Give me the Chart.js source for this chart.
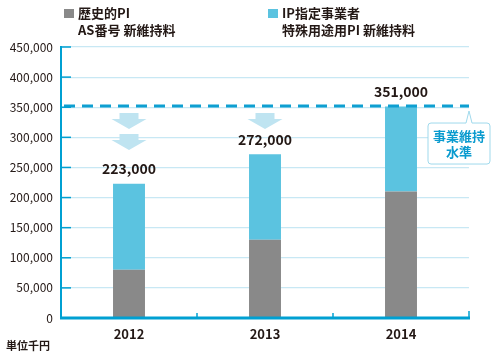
<!DOCTYPE html>
<html>
<head>
<meta charset="utf-8">
<script src="https://cdn.jsdelivr.net/npm/chart.js@4"></script>
<style>
  html, body { margin: 0; padding: 0; background: #fff; }
  #wrap { width: 500px; height: 358px; position: relative; }
</style>
</head>
<body>
<div id="wrap"><canvas id="feeChart"></canvas></div>
<script>
// data
const years = ["2012", "2013", "2014"];
const historicPI = [80000, 130000, 210000];
const ipDesignated = [143000, 142000, 141000];
const seriesNames = [
  ["歴史的PI", "AS番号 新維持料"],
  ["IP指定事業者", "特殊用途用PI 新維持料"],
];
const targetLevel = 352000;
const targetLabel = ["事業維持", "水準"];
const arrowCounts = [2, 1, 0];
const unitLabel = "単位千円";

const FONT = "'Noto Sans CJK JP', 'Noto Sans', sans-serif";
const TEXT = "#231815";
const AXIS = "#00a0d2";
const GRAY = "#898989";
const BLUE = "#5bc3e0";

function fmt(v) {
  return v.toLocaleString("en-US");
}

/* axes, legend, labels and annotations */
const decor = {
  id: "decor",
  afterDatasetsDraw(chart) {
    const ctx = chart.ctx;
    const area = chart.chartArea;
    const x = chart.scales.x;
    const y = chart.scales.y;

    // down arrows
    const ty = y.getPixelForValue(targetLevel);
    ctx.save();
    ctx.fillStyle = "#bfe4f1";
    arrowCounts.forEach((n, i) => {
      const cx = x.getPixelForValue(i);
      for (let k = 0; k < n; k++) {
        const top = ty + 7 + k * 21;
        ctx.beginPath();
        ctx.moveTo(cx - 9.5, top);
        ctx.lineTo(cx + 9.5, top);
        ctx.lineTo(cx + 9.5, top + 6);
        ctx.lineTo(cx + 17.5, top + 6);
        ctx.lineTo(cx, top + 16);
        ctx.lineTo(cx - 17.5, top + 6);
        ctx.lineTo(cx - 9.5, top + 6);
        ctx.closePath();
        ctx.fill();
      }
    });

    // totals above bars
    ctx.fillStyle = TEXT;
    ctx.font = "bold 14px " + FONT;
    ctx.textAlign = "center";
    ctx.textBaseline = "middle";
    years.forEach((yr, i) => {
      const total = historicPI[i] + ipDesignated[i];
      ctx.fillText(fmt(total), x.getPixelForValue(i), y.getPixelForValue(total) - 15);
    });

    // dashed target line
    ctx.strokeStyle = "#0e9fd1";
    ctx.lineWidth = 3;
    ctx.setLineDash([11, 7]);
    ctx.beginPath();
    ctx.moveTo(area.left + 3, ty);
    ctx.lineTo(area.right, ty);
    ctx.stroke();
    ctx.setLineDash([]);
    ctx.restore();
  },
  afterDraw(chart) {
    const ctx = chart.ctx;
    const area = chart.chartArea;
    const y = chart.scales.y;
    const x = chart.scales.x;
    ctx.save();

    // left axis and inward ticks
    ctx.strokeStyle = AXIS;
    ctx.lineWidth = 2;
    ctx.beginPath();
    ctx.moveTo(area.left, area.top - 1);
    ctx.lineTo(area.left, area.bottom);
    ctx.stroke();
    ctx.lineWidth = 1.5;
    y.ticks.forEach((t) => {
      const py = y.getPixelForValue(t.value);
      ctx.beginPath();
      ctx.moveTo(area.left, py);
      ctx.lineTo(area.left + 10, py);
      ctx.stroke();
    });

    // bottom axis and category ticks
    ctx.lineWidth = 3;
    ctx.beginPath();
    ctx.moveTo(area.left - 1, area.bottom);
    ctx.lineTo(area.right + 1, area.bottom);
    ctx.stroke();
    ctx.lineWidth = 1.5;
    const step = (area.right - area.left) / years.length;
    for (let i = 1; i <= years.length; i++) {
      const px = area.left + step * i;
      ctx.beginPath();
      ctx.moveTo(px, area.bottom);
      ctx.lineTo(px, area.bottom - (i === years.length ? 7 : 5));
      ctx.stroke();
    }

    // legend
    const legendX = [64, 268];
    const colors = [GRAY, BLUE];
    ctx.font = "bold 13px " + FONT;
    ctx.textAlign = "left";
    ctx.textBaseline = "middle";
    seriesNames.forEach((lines, i) => {
      ctx.fillStyle = colors[i];
      ctx.fillRect(legendX[i], 9, 10, 9);
      ctx.fillStyle = TEXT;
      lines.forEach((ln, j) => {
        ctx.fillText(ln, legendX[i] + 14, 13 + j * 17);
      });
    });

    // unit label
    ctx.font = "bold 11px " + FONT;
    ctx.fillText(unitLabel, 6, 346);

    // callout box
    const ty = y.getPixelForValue(targetLevel);
    const bx = area.right - 41, by = ty + 17, bw = 62, bh = 41;
    const px = area.right;
    ctx.fillStyle = "#fff";
    ctx.strokeStyle = "#9fd9ec";
    ctx.lineWidth = 1;
    ctx.beginPath();
    ctx.moveTo(bx + 3, by);
    ctx.lineTo(px - 3, by);
    ctx.lineTo(px, ty + 5);
    ctx.lineTo(px + 3, by);
    ctx.lineTo(bx + bw - 3, by);
    ctx.quadraticCurveTo(bx + bw, by, bx + bw, by + 3);
    ctx.lineTo(bx + bw, by + bh - 3);
    ctx.quadraticCurveTo(bx + bw, by + bh, bx + bw - 3, by + bh);
    ctx.lineTo(bx + 3, by + bh);
    ctx.quadraticCurveTo(bx, by + bh, bx, by + bh - 3);
    ctx.lineTo(bx, by + 3);
    ctx.quadraticCurveTo(bx, by, bx + 3, by);
    ctx.closePath();
    ctx.fill();
    ctx.stroke();
    ctx.fillStyle = "#0a9bcf";
    ctx.font = "bold 13px " + FONT;
    ctx.textAlign = "center";
    targetLabel.forEach((ln, j) => {
      ctx.fillText(ln, bx + bw / 2, by + 13 + j * 16);
    });
    ctx.restore();
  },
};

function initChart() {
  const ctx = document.getElementById("feeChart").getContext("2d");
  new Chart(ctx, {
    type: "bar",
    data: {
      labels: years,
      datasets: [
        { label: seriesNames[0].join(" "), data: historicPI, backgroundColor: GRAY },
        { label: seriesNames[1].join(" "), data: ipDesignated, backgroundColor: BLUE },
      ],
    },
    options: {
      responsive: true,
      maintainAspectRatio: false,
      animation: false,
      layout: { padding: { top: 47, right: 31, left: 0, bottom: 0 } },
      datasets: { bar: { categoryPercentage: 1, barPercentage: 0.235 } },
      plugins: { legend: { display: false }, tooltip: { enabled: false } },
      scales: {
        x: {
          stacked: true,
          grid: { display: false, drawTicks: false },
          border: { display: false },
          ticks: { color: TEXT, font: { family: FONT, size: 13, weight: "bold" }, padding: 8 },
          afterFit(s) { s.height = 40; },
        },
        y: {
          stacked: true,
          min: 0,
          max: 450000,
          grid: { color: "#c8e8f4", lineWidth: 1.2, drawTicks: false },
          border: { display: false },
          ticks: {
            stepSize: 50000,
            color: TEXT,
            padding: 8,
            font: { family: FONT, size: 12 },
            callback: (v) => fmt(v),
          },
          afterFit(s) { s.width = 61; },
        },
      },
    },
    plugins: [decor],
  });
}

window.onload = initChart;
</script>
</body>
</html>
